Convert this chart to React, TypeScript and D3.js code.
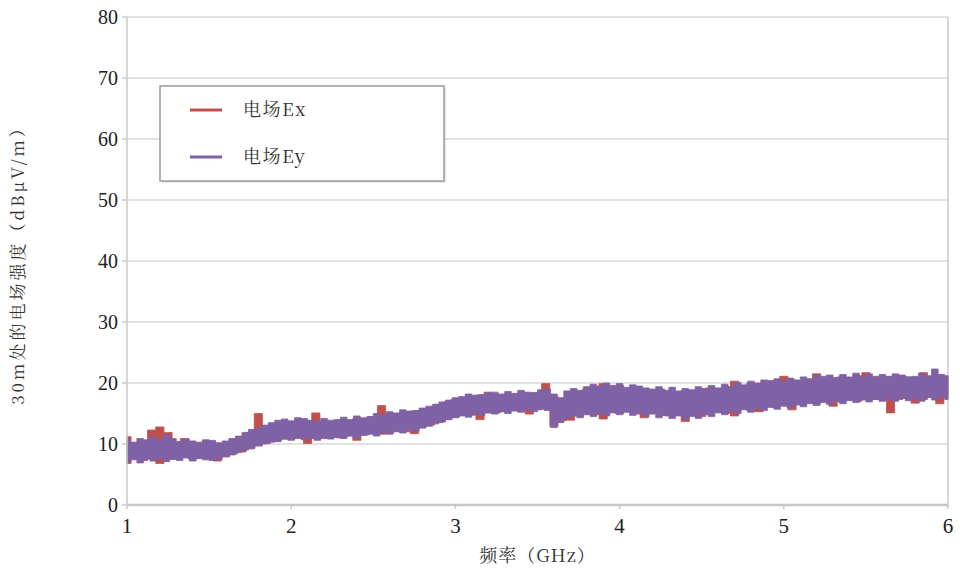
import React from 'react'
import * as d3 from 'd3'

// Ey measured band, 1.00–6.00 GHz every 0.04 GHz (upper / lower envelope, dBμV/m)
const eyFreqStep = 0.04
const eyUpper = [
  10.8, 10.3, 10.9, 10.7, 11.2, 10.6, 11.6, 10.9, 10.4, 10.8, 10.5, 10.2, 10.7, 10.6, 10.1, 10.5,
  10.9, 11.3, 11.9, 12.4, 12.6, 13.1, 13.5, 13.9, 14.1, 13.8, 14.3, 14.2, 13.9, 13.7, 14.2, 13.9,
  14.0, 14.4, 14.0, 14.6, 14.3, 14.5, 15.0, 14.7, 15.3, 15.1, 15.6, 15.4, 15.5, 15.9, 16.2, 16.5,
  16.9, 17.2, 17.6, 17.8, 18.2, 18.0, 18.1, 18.4, 18.5, 18.2, 18.6, 18.3, 18.8, 18.5, 18.4, 18.9,
  19.0, 18.2, 17.6, 18.7, 19.1, 18.8, 19.4, 19.8, 19.5, 20.0, 19.6, 19.9, 19.3, 19.7, 19.5, 19.2,
  19.0, 19.4, 18.8, 19.3, 18.7, 19.1, 18.9, 19.4, 19.0, 19.6, 19.2, 19.8, 19.4, 20.1, 19.7, 20.3,
  19.9, 20.5, 20.4, 20.7, 20.3, 20.8, 20.5, 21.0, 20.6, 21.2, 21.1, 21.3, 20.9, 21.4, 21.0, 21.6,
  21.1, 21.5, 21.0, 21.4, 21.1, 21.5, 21.3, 21.0, 21.1, 21.6, 21.2, 22.3, 21.4, 21.2,
]
const eyLower = [
  7.0, 7.4, 6.9, 7.5, 7.2, 7.6, 7.1, 7.5, 7.3, 7.7, 7.2, 7.6, 7.4, 7.3, 7.5, 7.9,
  8.2, 8.6, 9.0, 9.3, 9.7, 10.0, 10.3, 10.4, 10.8, 10.6, 11.0, 10.7, 10.9, 10.6, 11.0, 10.8,
  11.1, 10.9, 11.3, 11.0, 11.4, 11.6, 11.3, 11.8, 11.6, 12.0, 11.8, 12.3, 12.1, 12.6, 12.9, 13.3,
  13.6, 14.0, 14.3, 14.6, 14.4, 14.9, 14.7, 15.1, 14.9, 15.3, 15.0, 15.4, 15.2, 15.6, 15.3, 15.7,
  15.5, 12.7, 13.5, 14.2, 14.6, 14.3, 14.8, 14.5, 15.0, 14.6, 15.1, 14.8, 15.2, 14.7, 15.0, 14.5,
  14.9, 14.3, 14.7, 14.2, 14.6, 14.0, 14.5, 14.2, 14.8, 14.5, 15.1, 14.8, 15.3, 15.0, 15.6, 15.2,
  15.8, 15.5, 16.0, 15.7, 16.2, 15.9, 16.4, 16.1, 16.6, 16.3, 16.8, 16.5, 17.0, 16.6, 17.1, 16.8,
  17.2, 16.9, 17.3, 17.0, 17.4, 17.0, 17.5, 17.1, 17.4, 17.0, 17.6, 17.2, 17.7, 17.3,
]

// Ex measured band, 1.00–6.00 GHz every 0.05 GHz
const exFreqStep = 0.05
const exUpper = [
  11.2, 10.2, 10.4, 12.3, 12.8, 11.9, 10.3, 10.9, 10.0, 10.3, 10.0, 10.2, 10.1, 10.6, 11.0, 11.9,
  15.0, 12.8, 13.3, 13.7, 13.5, 13.8, 13.6, 15.1, 13.7, 13.6, 13.8, 13.7, 14.2, 14.0, 14.5, 16.3,
  14.9, 14.9, 15.2, 15.4, 15.6, 15.9, 16.5, 16.9, 17.3, 17.6, 17.9, 18.0, 18.5, 18.1, 18.0, 18.2,
  18.3, 18.4, 18.4, 19.9, 17.9, 17.3, 18.4, 18.6, 19.0, 19.4, 19.9, 19.4, 19.6, 19.0, 19.4, 18.9,
  18.8, 19.0, 18.6, 18.5, 18.8, 18.6, 19.1, 19.2, 19.0, 19.4, 20.3, 19.5, 20.0, 20.0, 19.9, 20.3,
  21.1, 20.5, 20.4, 20.7, 21.5, 20.8, 20.7, 21.0, 20.9, 21.2, 21.7, 21.1, 20.8, 21.0, 20.8, 21.0,
  20.9, 21.7, 21.0, 21.4, 21.1,
]
const exLower = [
  6.8, 7.6, 7.3, 7.7, 6.8, 7.5, 7.5, 7.8, 7.5, 7.7, 7.6, 7.2, 7.9, 8.4, 8.7, 9.2,
  9.7, 10.1, 10.4, 10.8, 10.8, 10.9, 10.1, 11.0, 10.9, 11.1, 11.0, 11.3, 10.6, 11.5, 11.7, 11.6,
  11.8, 12.1, 12.0, 11.7, 12.8, 13.1, 13.5, 14.0, 14.4, 14.8, 14.7, 14.0, 15.1, 15.1, 15.3, 15.5,
  15.4, 14.9, 15.6, 15.8, 12.9, 13.8, 13.9, 14.6, 15.0, 14.8, 14.1, 15.2, 15.0, 15.3, 14.9, 14.3,
  15.0, 14.7, 14.6, 14.8, 13.7, 14.7, 14.5, 15.0, 15.3, 15.0, 14.6, 15.8, 15.4, 15.3, 16.2, 16.0,
  16.4, 15.6, 16.6, 16.8, 16.6, 17.0, 16.2, 16.9, 17.3, 17.0, 17.4, 17.3, 17.3, 15.1, 17.3, 17.5,
  16.7, 17.3, 17.8, 16.6, 17.6,
]

const xTicks = [1, 2, 3, 4, 5, 6]
const yTicks = [0, 10, 20, 30, 40, 50, 60, 70, 80]
const seriesNames = ['电场Ex', '电场Ey']
const seriesColors = ['#c0504d', '#7f62a6']

const W = 960
const H = 577
const margin = { left: 127, right: 12, top: 17, bottom: 72 }
const latin = { fontFamily: '"Liberation Serif"' }
const cjk = { fontFamily: '"Noto Serif CJK SC"' }

type Pt = { f: number; lo: number; hi: number }

const toBand = (step: number, hi: number[], lo: number[]): Pt[] =>
  hi.map((v, i) => ({ f: 1 + step * i, hi: v, lo: lo[i] }))

export default function App() {
  const x = d3.scaleLinear().domain([1, 6]).range([margin.left, W - margin.right])
  const y = d3.scaleLinear().domain([0, 80]).range([H - margin.bottom, margin.top])

  const area = d3
    .area<Pt>()
    .x(d => x(d.f))
    .y0(d => y(d.lo))
    .y1(d => y(d.hi))
    .curve(d3.curveStep)

  const bands = [toBand(exFreqStep, exUpper, exLower), toBand(eyFreqStep, eyUpper, eyLower)]

  const x0 = x(1)
  const x1 = x(6)
  const yTop = y(80)
  const yBot = y(0)

  return (
    <svg width={W} height={H} style={{ position: 'absolute', left: 0, top: 0, background: '#fff' }}>
      {/* grid */}
      {yTicks.filter(t => t > 0).map(t => (
        <line key={t} x1={x0} x2={x1} y1={y(t)} y2={y(t)} stroke="#d9d9d9" strokeWidth={1.5} />
      ))}
      <line x1={x1} x2={x1} y1={yTop} y2={yBot} stroke="#bfbfbf" strokeWidth={1.2} />

      {/* data bands */}
      {bands.map((b, i) => (
        <path key={i} d={area(b) ?? ''} fill={seriesColors[i]} stroke={seriesColors[i]} strokeWidth={0.8} />
      ))}

      {/* axes */}
      <line x1={x0} x2={x0} y1={yTop} y2={yBot} stroke="#c8c8c8" strokeWidth={1.5} />
      <line x1={x0} x2={x1} y1={yBot} y2={yBot} stroke="#c8c8c8" strokeWidth={2.5} />
      {yTicks.map(t => (
        <g key={t}>
          <line x1={x0 - 5} x2={x0} y1={y(t)} y2={y(t)} stroke="#c8c8c8" strokeWidth={1.5} />
          <text x={118} y={y(t)} dy="0.35em" textAnchor="end" fontSize={20} fill="#222" style={latin}>
            {t}
          </text>
        </g>
      ))}
      {xTicks.map(t => (
        <g key={t}>
          <line x1={x(t)} x2={x(t)} y1={yBot} y2={yBot + 4} stroke="#c8c8c8" strokeWidth={1.5} />
          <text x={x(t)} y={yBot + 28} textAnchor="middle" fontSize={21} fill="#222" style={latin}>
            {t}
          </text>
        </g>
      ))}

      <text x={(x0 + x1) / 2} y={562} textAnchor="middle" fontSize={18} letterSpacing={1} fill="#333" style={cjk}>
        频率（GHz）
      </text>
      <text
        transform={`translate(24, ${(yTop + yBot) / 2}) rotate(-90)`}
        textAnchor="middle"
        fontSize={17}
        letterSpacing={3}
        fill="#333"
        style={cjk}
      >
        30m处的电场强度（dBμV/m）
      </text>

      {/* legend */}
      <rect x={162} y={88} width={284} height={95} fill="#bbb" opacity={0.35} />
      <rect x={160} y={86} width={284} height={95} fill="#fff" stroke="#9a9a9a" strokeWidth={1.5} />
      {seriesNames.map((n, i) => (
        <g key={n} transform={`translate(190, ${110 + i * 47})`}>
          <line x1={0} x2={32} y1={0} y2={0} stroke={seriesColors[i]} strokeWidth={3} />
          <text x={53} y={0} dy="0.35em" fontSize={18} letterSpacing={1.5} fill="#333" style={cjk}>
            {n}
          </text>
        </g>
      ))}
    </svg>
  )
}
